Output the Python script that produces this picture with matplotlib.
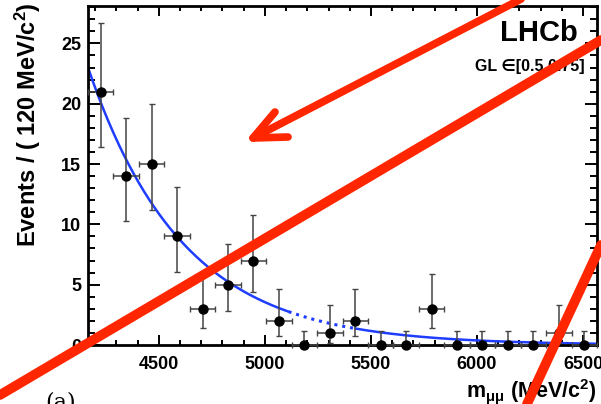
"""
Dimuon mass spectrum in one GL bin with exponential background fit.
"""

import numpy as np
import matplotlib
matplotlib.use("Agg")
import matplotlib.pyplot as plt
from matplotlib.ticker import MultipleLocator

# data (events per 120 MeV/c^2 bin)
mass_centers = [4226, 4346, 4466, 4586, 4706, 4826, 4946, 5066, 5186, 5306,
                5426, 5546, 5666, 5786, 5906, 6026, 6146, 6266, 6386, 6506]
counts = [21, 14, 15, 9, 3, 5, 7, 2, 0, 1, 2, 0, 0, 3, 0, 0, 0, 0, 1, 0]
err_low = [4.55, 3.70, 3.83, 2.94, 1.63, 2.16, 2.58, 1.29, 0.0, 0.83,
           1.29, 0.0, 0.0, 1.63, 0.0, 0.0, 0.0, 0.0, 0.83, 0.0]
err_high = [5.67, 4.83, 4.97, 4.11, 2.92, 3.38, 3.77, 2.64, 1.15, 2.30,
            2.64, 1.15, 1.15, 2.92, 1.15, 1.15, 1.15, 1.15, 2.30, 1.15]
bin_half_width = 60

# exponential background fit
mass_min, mass_max = 4166, 6566
fit_norm = 23.0
fit_slope = 0.00224
blind_low, blind_high = 5110, 5425

plt.rcParams["font.family"] = ["Liberation Sans", "DejaVu Sans"]
plt.rcParams["font.weight"] = "bold"
plt.rcParams["mathtext.fontset"] = "custom"
plt.rcParams["mathtext.rm"] = "Liberation Sans:bold"
plt.rcParams["mathtext.it"] = "Liberation Sans"
plt.rcParams["mathtext.bf"] = "Liberation Sans:bold"

W, H = 601, 404
fig = plt.figure(figsize=(W / 100, H / 100), dpi=100)
ax = fig.add_axes([88 / W, (H - 345) / H, (597 - 88) / W, (345 - 6) / H])

# fit curve, dotted inside blinded window
m = np.linspace(mass_min, mass_max, 600)
bkg = fit_norm * np.exp(-fit_slope * (m - mass_min))
blue = "#1f3dff"
ax.plot(np.where(m <= blind_low, m, np.nan), bkg, color=blue, lw=1.8)
ax.plot(np.where(m >= blind_high, m, np.nan), bkg, color=blue, lw=1.8)
inside = (m >= blind_low) & (m <= blind_high)
ax.plot(m[inside], bkg[inside], color=blue, lw=2.2, ls=(0, (1, 1.6)))

ax.errorbar(mass_centers, counts, yerr=[err_low, err_high], xerr=bin_half_width,
            fmt="o", color="black", ms=6.5, ecolor="#444444", elinewidth=1.1,
            capsize=2, capthick=1.0, clip_on=False, zorder=5)

ax.set_xlim(mass_min, mass_max)
ax.set_ylim(0, 28.1)
ax.xaxis.set_major_locator(MultipleLocator(500))
ax.xaxis.set_minor_locator(MultipleLocator(100))
ax.yaxis.set_major_locator(MultipleLocator(5))
ax.yaxis.set_minor_locator(MultipleLocator(1))
ax.tick_params(which="both", direction="in", top=True, right=True, width=1.4)
ax.tick_params(axis="x", which="major", length=7, labelsize=13, pad=8)
ax.tick_params(axis="x", which="minor", length=3.6)
ax.tick_params(axis="y", which="major", length=8.5, labelsize=13, pad=5)
ax.tick_params(axis="y", which="minor", length=5)
for lab in ax.get_xticklabels() + ax.get_yticklabels():
    lab.set_fontweight("bold")
for s in ax.spines.values():
    s.set_linewidth(2)

fig.text(28 / W, 1 - 2 / H, r"Events / ( 120 MeV/c$^{2}$)", rotation=90,
         ha="center", va="top", fontsize=17, fontweight="bold")
fig.text(597 / W, 1 - 392 / H, r"m$_{\mathit{\mu\mu}}$ (MeV/c$^{2}$)",
         ha="right", va="center", fontsize=15.5, fontweight="bold")
fig.text(578 / W, 1 - 33 / H, "LHCb", ha="right", va="center",
         fontsize=21, fontweight="bold")
fig.text(585 / W, 1 - 66 / H, "GL \u2208[0.5,0.75]", ha="right", va="center",
         fontsize=11.5, fontweight="bold")
fig.text(45 / W, 1 - 392 / H, "(a)", ha="left", va="top", fontsize=16,
         family="DejaVu Serif", fontweight="normal")

# red annotation strokes on top
ov = fig.add_axes([0, 0, 1, 1], zorder=10)
ov.set_xlim(0, W)
ov.set_ylim(H, 0)
ov.axis("off")
ov.patch.set_alpha(0)
red = "#ff2600"
ov.plot([0, 601], [395, 40], color=red, lw=7, solid_capstyle="round")
ov.plot([527, 601], [404, 245], color=red, lw=7, solid_capstyle="round")
ov.plot([525, 253], [-3, 138], color=red, lw=5.5, solid_capstyle="round")
ov.plot([275, 253, 288], [112, 138, 137], color=red, lw=5.5,
        solid_capstyle="round", solid_joinstyle="round")

fig.savefig("out.png", dpi=100)
